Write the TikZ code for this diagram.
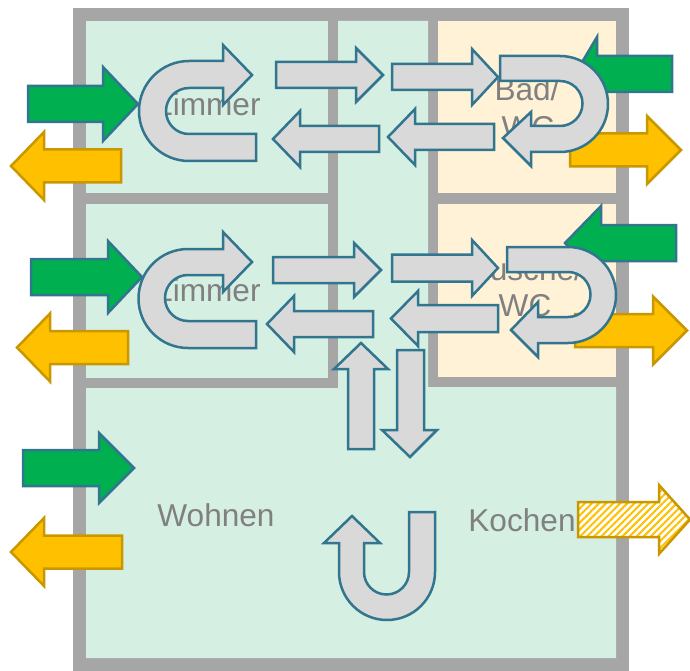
\documentclass[tikz,border=0pt]{standalone}
\usepackage{fontspec}
\setmainfont{Liberation Sans}
\usetikzlibrary{patterns.meta}
\definecolor{WallClr}{HTML}{A6A6A6}
\definecolor{RoomClr}{HTML}{D5F0E2}
\definecolor{WetClr}{HTML}{FFF2D6}
\definecolor{FlowClr}{HTML}{D9D9D9}
\definecolor{EdgeClr}{HTML}{31758F}
\definecolor{InClr}{HTML}{00B050}
\definecolor{OutClr}{HTML}{FFC000}
\definecolor{OutEdgeClr}{HTML}{C99700}
\definecolor{TextClr}{HTML}{808080}
\tikzset{
  flow/.style={fill=FlowClr,draw=EdgeClr,line width=2.5pt,miter limit=10},
  airin/.style={fill=InClr,draw=EdgeClr,line width=2.5pt,miter limit=10},
  airout/.style={fill=OutClr,draw=OutEdgeClr,line width=2.5pt,miter limit=10},
  airhatch/.style={preaction={fill=white},pattern={Lines[angle=45,distance=5pt,line width=2pt]},pattern color=OutClr,draw=OutEdgeClr,line width=2.5pt,miter limit=10},
  roomlabel/.style={anchor=base,text=TextClr,font=\fontsize{31.6}{36}\selectfont}
}
% #1 style, #2 tail x, #3 tip x, #4 mid y, #5 head base x, #6 half shaft, #7 half head
\newcommand{\HorArrow}[7]{
  \draw[#1] (#2,#4-#6) -- (#5,#4-#6) -- (#5,#4-#7) -- (#3,#4) -- (#5,#4+#7) -- (#5,#4+#6) -- (#2,#4+#6) -- cycle;
}

\begin{document}
\begin{tikzpicture}[x=1pt,y=1pt,yscale=-1]
\useasboundingbox (0,0) rectangle (690,671);

\fill[WallClr] (73,8) rectangle (629,671);
\fill[RoomClr] (86,21) rectangle (328,193);
\fill[RoomClr] (86,204) rectangle (328,378);
\fill[RoomClr] (338,21) -- (428,21) -- (428,387) -- (616,387) -- (616,658) -- (86,658) -- (86,388) -- (338,388) -- cycle;
\fill[WetClr] (438,21) rectangle (616,193);
\fill[WetClr] (438,204) rectangle (616,377);

\node[roomlabel] (zimmerA) at (207,116) {Zimmer};
\node[roomlabel] (zimmerB) at (207,301) {Zimmer};
\node[roomlabel] (bad) at (527,101) {Bad/};
\node[roomlabel] (badwc) at (528,139) {WC};
\node[roomlabel] (dusche) at (525,280) {Dusche/};
\node[roomlabel] (duschewc) at (525,316) {WC};
\node[roomlabel] (wohnen) at (216,526) {Wohnen};
\node[roomlabel] (kochen) at (522,531) {Kochen};

\HorArrow{airin}{28}{138}{104}{103}{18}{37}
\HorArrow{airout}{121}{11}{166}{44}{16.5}{34}
\HorArrow{airin}{31}{142}{277}{108}{18}{36}
\HorArrow{airout}{128}{17}{347.5}{50}{16.5}{34}
\HorArrow{airin}{23}{134}{468}{99}{18}{35}
\HorArrow{airout}{122}{11}{552}{44}{16.5}{34}
\HorArrow{airin}{672}{575}{74}{597}{18}{37}
\HorArrow{airout}{570}{681}{150}{647}{16.5}{34}
\HorArrow{airin}{676}{565}{243}{601}{18}{37}
\HorArrow{airout}{575}{687}{330.5}{653}{16.5}{34}
\HorArrow{airhatch}{578}{690}{519.5}{659}{17.5}{34.5}

\HorArrow{flow}{276}{383}{75}{356}{13}{27}
\HorArrow{flow}{392}{498}{77}{472}{13}{28}
\HorArrow{flow}{379}{273}{139}{300}{13}{28}
\HorArrow{flow}{494}{388}{137}{415}{13}{28}
\HorArrow{flow}{273}{381}{270}{354}{13}{27}
\HorArrow{flow}{392}{498}{268}{472}{13.5}{28}
\HorArrow{flow}{373}{267}{324}{294}{13}{28}
\HorArrow{flow}{498}{391}{318.5}{418}{13.5}{27.5}

\draw[flow] (348,449) -- (348,369) -- (334,369) -- (361,343) -- (388,369) -- (374,369) -- (374,449) -- cycle;
\draw[flow] (397,350) -- (424,350) -- (424,430) -- (437,430) -- (410,457) -- (382,430) -- (397,430) -- cycle;

\draw[flow] (256,134) -- (256,161) -- (189,161) arc (90:270:50) -- (223,61) -- (223,45) -- (252,75) -- (223,105) -- (223,88) -- (189,88) arc (270:90:23) -- cycle;
\draw[flow] (256,321) -- (256,348) -- (188,348) arc (90:270:49.5) -- (223,249) -- (223,232) -- (252,262) -- (223,292) -- (223,275) -- (188,275) arc (270:90:23) -- cycle;
\draw[flow] (500,56) -- (560,56) arc (270:450:48) -- (531,152) -- (531,166) -- (503,138) -- (531,112) -- (531,126) -- (560,126) arc (90:-90:22.5) -- (500,81) -- cycle;
\draw[flow] (507,247) -- (568,247) arc (270:450:48) -- (538,343) -- (538,357) -- (511,330) -- (538,302) -- (538,317) -- (568,317) arc (90:-90:22.5) -- (507,272) -- cycle;
\draw[flow] (409,512) -- (435,512) -- (435,572) arc (0:180:48) -- (339,543) -- (324,543) -- (352,516) -- (380,543) -- (364,543) -- (364,572) arc (180:0:22.5) -- cycle;

\end{tikzpicture}
\end{document}
